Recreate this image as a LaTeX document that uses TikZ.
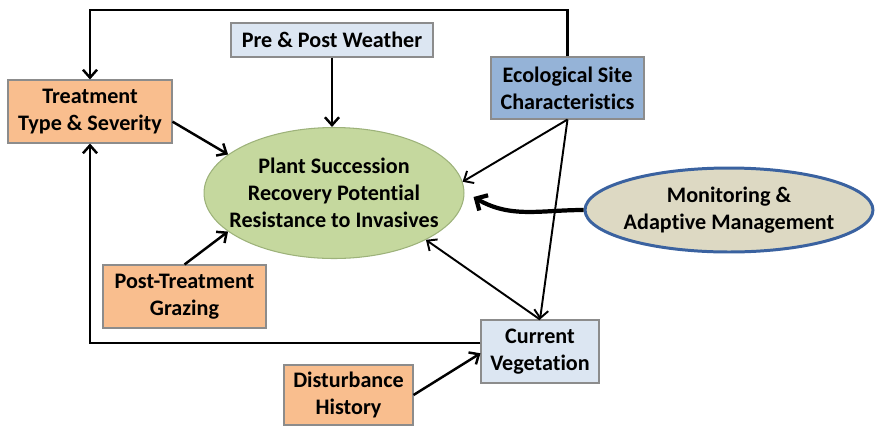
\documentclass[tikz,border=0pt]{standalone}
\usepackage{fontspec}
\setmainfont{Carlito}[Ligatures=NoCommon]
\usepackage{xcolor}
\usetikzlibrary{shapes.geometric, arrows.meta, calc}

\definecolor{orangefill}{HTML}{F9BE8E}
\definecolor{lightblue}{HTML}{DCE6F2}
\definecolor{midblue}{HTML}{95B3D7}
\definecolor{greenfill}{HTML}{C5D89E}
\definecolor{greenline}{HTML}{9DB27A}
\definecolor{tanfill}{HTML}{DDD9C3}
\definecolor{blueline}{HTML}{3A62A0}
\definecolor{boxline}{HTML}{8C8C8C}

\tikzset{
    factor/.style={draw=boxline, line width=0.6pt, inner sep=0pt, align=center,
        font=\fontsize{12.6}{15.3}\selectfont\bfseries},
    oval/.style={factor, ellipse, inner xsep=-14pt, inner ysep=-4pt},
    link/.style={line width=1.4pt, -{Straight Barb[length=4.5pt,width=8pt]}},
    thinlink/.style={line width=1.1pt, -{Straight Barb[length=4.5pt,width=8pt]}}
}

\begin{document}
\begin{tikzpicture}[x=0.02cm, y=-0.02cm]
    \useasboundingbox (0,0) rectangle (875,427);

    % Boxes
    \node[factor, fill=orangefill, minimum width=3.28cm, minimum height=1.26cm] (treat) at (90,111.5) {Treatment\\Type \& Severity};
    \node[factor, fill=lightblue, minimum width=4.04cm, minimum height=0.68cm] (weather) at (332,40) {Pre \& Post Weather};
    \node[factor, fill=midblue, minimum width=3.06cm, minimum height=1.24cm] (site) at (567.5,88) {Ecological Site\\Characteristics};
    \node[factor, fill=orangefill, minimum width=3.26cm, minimum height=1.26cm] (grazing) at (184.5,296.5) {Post-Treatment\\Grazing};
    \node[factor, fill=orangefill, minimum width=2.58cm, minimum height=1.2cm] (disturb) at (348.5,395) {Disturbance\\History};
    \node[factor, fill=lightblue, minimum width=2.36cm, minimum height=1.26cm] (veg) at (540,351.5) {Current\\Vegetation};

    % Ellipses
    \node[oval, draw=greenline, fill=greenfill, minimum width=5.2cm, minimum height=2.62cm] (plant) at (334,193) {Plant Succession\\Recovery Potential\\Resistance to Invasives};
    \node[oval, draw=blueline, line width=1.7pt, fill=tanfill, minimum width=5.76cm, minimum height=1.68cm] (monitor) at (729,210) {Monitoring \&\\Adaptive Management};

    % Connectors
    \draw[link] (site.north) |- (90,10) -| (treat.north);
    \draw[link] (weather.south) -- (weather.south |- plant.north);
    \draw[link] (treat.-7) -- (plant.160);
    \draw[link] (grazing.north) -- (plant.200);
    \draw[thinlink] (site.south) -- (plant.5);
    \draw[thinlink] (site.south) -- (veg.north);
    \draw[thinlink] (veg.north) -- (plant.-27);
    \draw[link] ([yshift=4.8pt]veg.west) -| (treat.south);
    \draw[link] (disturb.east) -- ([yshift=-1pt]veg.west);
    \draw[line width=2.4pt, -{Straight Barb[length=5pt,width=10pt]}] (monitor.west) to[out=180, in=-30] ([shift={(9,4)}]plant.east);
\end{tikzpicture}
\end{document}
